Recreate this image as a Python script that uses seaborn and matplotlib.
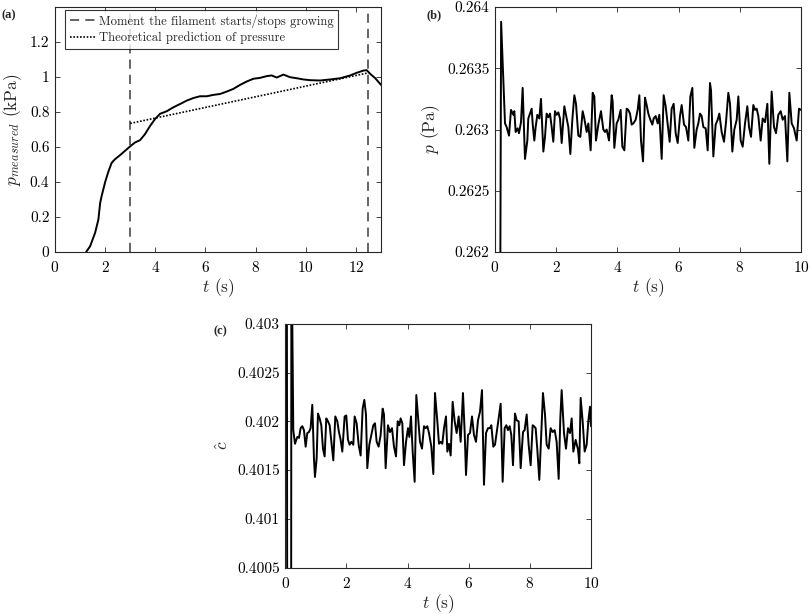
import numpy as np
import pandas as pd

import matplotlib
matplotlib.use("Agg")
import matplotlib.pyplot as plt
import seaborn as sns

# ---- panel (a): measured pressure ----
t_a = [1.24, 1.40, 1.60, 1.73, 1.80, 1.86, 2.00, 2.13, 2.26, 2.39, 2.59, 2.79,
       2.99, 3.19, 3.39, 3.59, 3.79, 3.99, 4.19, 4.45, 4.72, 4.99, 5.25, 5.52,
       5.78, 6.05, 6.32, 6.58, 6.85, 7.11, 7.38, 7.64, 7.91, 8.17, 8.44, 8.64,
       8.84, 9.11, 9.37, 9.64, 9.91, 10.17, 10.57, 10.97, 11.37, 11.77, 12.03,
       12.30, 12.43, 12.57, 12.77, 13.0]
p_a = [0.0, 0.033, 0.11, 0.186, 0.28, 0.32, 0.40, 0.46, 0.51, 0.53, 0.553, 0.578,
       0.603, 0.626, 0.639, 0.674, 0.72, 0.76, 0.79, 0.804, 0.827, 0.846, 0.865,
       0.88, 0.89, 0.89, 0.898, 0.903, 0.917, 0.932, 0.955, 0.974, 0.99, 0.995,
       1.005, 1.009, 0.997, 1.014, 0.999, 0.993, 0.986, 0.982, 0.98, 0.986,
       0.993, 1.009, 1.024, 1.037, 1.039, 1.018, 0.993, 0.955]
t_theory = [3.0, 12.5]
p_theory = [0.735, 1.024]
t_growth = [3.0, 12.5]

# ---- panel (b): p ----
t_b = [0.15, 0.20, 0.327, 0.381, 0.458, 0.523, 0.599, 0.632, 0.675, 0.741, 0.784,
       0.850, 0.904, 0.980, 1.057, 1.089, 1.144, 1.198, 1.231, 1.285, 1.329,
       1.383, 1.449, 1.503, 1.580, 1.634, 1.688, 1.743, 1.797, 1.852, 1.906,
       1.961, 2.015, 2.070, 2.124, 2.179, 2.266, 2.342, 2.397, 2.462, 2.527,
       2.593, 2.647, 2.723, 2.789, 2.865, 2.919, 2.996, 3.050, 3.126, 3.192,
       3.246, 3.301, 3.377, 3.464, 3.540, 3.595, 3.649, 3.726, 3.813, 3.845,
       3.900, 3.976, 4.031, 4.107, 4.161, 4.227, 4.303, 4.357, 4.412, 4.466,
       4.521, 4.597, 4.662, 4.717, 4.771, 4.837, 4.902, 4.956, 5.011, 5.076,
       5.142, 5.185, 5.251, 5.316, 5.370, 5.447, 5.512, 5.577, 5.643, 5.708,
       5.773, 5.839, 5.904, 5.970, 6.046, 6.100, 6.177, 6.242, 6.318, 6.384,
       6.449, 6.514, 6.590, 6.645, 6.699, 6.754, 6.808, 6.885, 6.950, 7.026,
       7.059, 7.135, 7.211, 7.277, 7.331, 7.407, 7.484, 7.549, 7.625, 7.680,
       7.756, 7.821, 7.898, 7.952, 8.028, 8.094, 8.170, 8.246, 8.301, 8.366,
       8.442, 8.497, 8.551, 8.606, 8.682, 8.747, 8.824, 8.900, 8.965, 9.041,
       9.118, 9.183, 9.259, 9.336, 9.401, 9.477, 9.553, 9.619, 9.695, 9.771,
       9.858, 9.935, 10.0]
p_b = [0.2600, 0.26388, 0.26305, 0.26302, 0.26295, 0.26316, 0.26312, 0.26315,
       0.26298, 0.26301, 0.26297, 0.26306, 0.26334, 0.26276, 0.26291, 0.26309,
       0.26313, 0.26317, 0.26305, 0.26291, 0.26302, 0.26312, 0.26309, 0.26325,
       0.26282, 0.26294, 0.26313, 0.26310, 0.26313, 0.26302, 0.26290, 0.26315,
       0.26312, 0.26314, 0.26309, 0.26289, 0.26319, 0.26309, 0.26302, 0.26280,
       0.26308, 0.26328, 0.26321, 0.26295, 0.26294, 0.26315, 0.26309, 0.26298,
       0.26305, 0.26283, 0.26330, 0.26327, 0.26291, 0.26304, 0.26315, 0.26300,
       0.26298, 0.26300, 0.26291, 0.26328, 0.26323, 0.26285, 0.26305, 0.26308,
       0.26316, 0.26286, 0.26283, 0.26317, 0.26316, 0.26313, 0.26304, 0.26305,
       0.26308, 0.26316, 0.26328, 0.26291, 0.26274, 0.26326, 0.26320, 0.26313,
       0.26308, 0.26304, 0.26309, 0.26311, 0.26305, 0.26312, 0.26276, 0.26328,
       0.26319, 0.26304, 0.26290, 0.26317, 0.26321, 0.26297, 0.26289, 0.26311,
       0.26320, 0.26304, 0.26302, 0.26291, 0.26327, 0.26334, 0.26285, 0.26300,
       0.26305, 0.26313, 0.26311, 0.26302, 0.26301, 0.26283, 0.26338, 0.26332,
       0.26278, 0.26304, 0.26308, 0.26313, 0.26298, 0.26290, 0.26306, 0.26330,
       0.26321, 0.26282, 0.26300, 0.26308, 0.26327, 0.26291, 0.26286, 0.26305,
       0.26319, 0.26302, 0.26294, 0.26320, 0.26316, 0.26317, 0.26311, 0.26291,
       0.26309, 0.26306, 0.26321, 0.26272, 0.26331, 0.26302, 0.26297, 0.26312,
       0.26315, 0.26308, 0.26311, 0.26274, 0.26330, 0.26305, 0.26301, 0.26291,
       0.26317, 0.26316]

# ---- panel (c): c hat ----
t_c = [0.05, 0.066, 0.19, 0.20, 0.262, 0.317, 0.393, 0.448, 0.502, 0.557, 0.611,
       0.666, 0.720, 0.775, 0.829, 0.884, 0.938, 0.971, 1.026, 1.069, 1.124,
       1.178, 1.233, 1.287, 1.342, 1.396, 1.451, 1.506, 1.571, 1.636, 1.702,
       1.756, 1.811, 1.865, 1.942, 1.996, 2.051, 2.105, 2.160, 2.225, 2.269,
       2.334, 2.400, 2.465, 2.531, 2.585, 2.640, 2.683, 2.749, 2.814, 2.880,
       2.934, 2.989, 3.054, 3.119, 3.185, 3.229, 3.283, 3.359, 3.425, 3.491,
       3.556, 3.622, 3.676, 3.731, 3.774, 3.829, 3.883, 3.949, 4.014, 4.058,
       4.112, 4.167, 4.232, 4.287, 4.352, 4.407, 4.472, 4.538, 4.592, 4.647,
       4.701, 4.778, 4.843, 4.897, 4.974, 5.028, 5.083, 5.137, 5.192, 5.257,
       5.301, 5.355, 5.410, 5.475, 5.541, 5.606, 5.672, 5.737, 5.813, 5.868,
       5.912, 5.977, 6.043, 6.108, 6.173, 6.239, 6.304, 6.370, 6.435, 6.500,
       6.566, 6.631, 6.696, 6.740, 6.805, 6.860, 6.914, 6.980, 7.045, 7.111,
       7.176, 7.231, 7.285, 7.340, 7.394, 7.449, 7.514, 7.569, 7.634, 7.700,
       7.776, 7.830, 7.896, 7.961, 8.027, 8.092, 8.136, 8.190, 8.245, 8.310,
       8.376, 8.430, 8.496, 8.550, 8.616, 8.681, 8.746, 8.812, 8.877, 8.943,
       8.997, 9.041, 9.117, 9.183, 9.248, 9.314, 9.368, 9.423, 9.499, 9.575,
       9.619, 9.662, 9.728, 9.793, 9.859, 9.913, 9.968, 10.0]
c_c = [0.4040, 0.3990, 0.3990, 0.4040, 0.40191, 0.40177, 0.40184, 0.40183,
       0.40193, 0.40195, 0.40191, 0.40174, 0.40188, 0.40189, 0.40193, 0.40217,
       0.40162, 0.40143, 0.40162, 0.40208, 0.40203, 0.40196, 0.40172, 0.40164,
       0.40203, 0.40200, 0.40196, 0.40179, 0.40160, 0.40205, 0.40200, 0.40189,
       0.40181, 0.40169, 0.40205, 0.40206, 0.40181, 0.40176, 0.40179, 0.40176,
       0.40205, 0.40198, 0.40176, 0.40165, 0.40213, 0.40222, 0.40207, 0.40152,
       0.40176, 0.40186, 0.40196, 0.40198, 0.40179, 0.40174, 0.40186, 0.40213,
       0.40207, 0.40152, 0.40196, 0.40189, 0.40193, 0.40174, 0.40164, 0.40200,
       0.40196, 0.40203, 0.40198, 0.40155, 0.40179, 0.40193, 0.40184, 0.40205,
       0.40169, 0.40138, 0.40227, 0.40201, 0.40179, 0.40172, 0.40195, 0.40193,
       0.40195, 0.40188, 0.40174, 0.40146, 0.40229, 0.40200, 0.40177, 0.40179,
       0.40177, 0.40193, 0.40205, 0.40169, 0.40177, 0.40165, 0.40220, 0.40200,
       0.40188, 0.40205, 0.40179, 0.40229, 0.40189, 0.40145, 0.40186, 0.40188,
       0.40205, 0.40186, 0.40179, 0.40201, 0.40210, 0.40232, 0.40135, 0.40188,
       0.40193, 0.40193, 0.40196, 0.40174, 0.40176, 0.40188, 0.40203, 0.40218,
       0.40138, 0.40193, 0.40196, 0.40191, 0.40195, 0.40186, 0.40155, 0.40208,
       0.40201, 0.40200, 0.40152, 0.40189, 0.40191, 0.40207, 0.40176, 0.40155,
       0.40196, 0.40195, 0.40193, 0.40171, 0.40140, 0.40189, 0.40229, 0.40207,
       0.40176, 0.40172, 0.40193, 0.40189, 0.40191, 0.40179, 0.40141, 0.40203,
       0.40232, 0.40188, 0.40172, 0.40193, 0.40188, 0.40203, 0.40169, 0.40181,
       0.40171, 0.40157, 0.40224, 0.40200, 0.40169, 0.40176, 0.40200, 0.40215,
       0.40195]

sns.set_theme(style="white")
plt.rcParams.update({
    "font.family": ["cmr10", "DejaVu Serif"],
    "mathtext.fontset": "cm",
    "axes.formatter.use_mathtext": True,
    "axes.edgecolor": "#262626",
    "axes.linewidth": 0.8,
    "xtick.direction": "in",
    "ytick.direction": "in",
    "xtick.color": "#262626",
    "ytick.color": "#262626",
    "xtick.labelcolor": "black",
    "ytick.labelcolor": "black",
    "xtick.major.size": 3.5,
    "ytick.major.size": 3.5,
    "xtick.major.width": 0.6,
    "ytick.major.width": 0.6,
    "xtick.labelsize": 11,
    "ytick.labelsize": 11,
    "axes.labelsize": 12.5,
})

fig = plt.figure(figsize=(8.1, 6.15), dpi=100)
ax_a = fig.add_axes([0.0679, 0.5902, 0.4025, 0.3984])
ax_b = fig.add_axes([0.6111, 0.5902, 0.3778, 0.3984])
ax_c = fig.add_axes([0.3522, 0.0769, 0.3774, 0.3967])


def matlab_box(ax):
    for s in ax.spines.values():
        s.set_visible(True)
    ax.tick_params(top=True, right=True, bottom=True, left=True)
    ax.tick_params(axis="x", pad=6)
    ax.tick_params(axis="y", pad=4)
    ax.xaxis.labelpad = 1
    ax.grid(False)


# (a)
df_a = pd.DataFrame({"t": t_a, "p": p_a})
sns.lineplot(data=df_a, x="t", y="p", ax=ax_a, color="black", lw=1.4,
             estimator=None, sort=False)
for i, tg in enumerate(t_growth):
    ax_a.axvline(tg, color="#3a3a3a", lw=1.1, ls=(0, (6, 4)),
                 label="Moment the filament starts/stops growing" if i == 0 else None)
df_th = pd.DataFrame({"t": t_theory, "p": p_theory})
sns.lineplot(data=df_th, x="t", y="p", ax=ax_a, color="black", lw=1.2,
             linestyle=(0, (1, 1)), label="Theoretical prediction of pressure",
             estimator=None, sort=False)
ax_a.set_xlim(0, 13)
ax_a.set_ylim(0, 1.4)
ax_a.set_xticks(range(0, 13, 2))
ax_a.set_yticks([0, 0.2, 0.4, 0.6, 0.8, 1.0, 1.2])
ax_a.set_yticklabels(["0", "0.2", "0.4", "0.6", "0.8", "1", "1.2"])
ax_a.set_xlabel(r"$t$ (s)")
ax_a.set_ylabel(r"$p_{measured}$ (kPa)")
leg = ax_a.legend(loc="upper left", bbox_to_anchor=(0.031, 0.988), borderaxespad=0,
                  fontsize=9.1, frameon=True, fancybox=False, handlelength=2.0,
                  handletextpad=0.3, borderpad=0.35, labelspacing=0.3)
leg.get_frame().set_edgecolor("black")
leg.get_frame().set_linewidth(0.8)
matlab_box(ax_a)

# (b)
df_b = pd.DataFrame({"t": t_b, "p": p_b})
sns.lineplot(data=df_b, x="t", y="p", ax=ax_b, color="black", lw=1.4,
             estimator=None, sort=False)
ax_b.set_xlim(0, 10)
ax_b.set_ylim(0.262, 0.264)
ax_b.set_xticks(range(0, 11, 2))
ax_b.set_yticks([0.262, 0.2625, 0.263, 0.2635, 0.264])
ax_b.set_yticklabels(["0.262", "0.2625", "0.263", "0.2635", "0.264"])
ax_b.set_xlabel(r"$t$ (s)")
ax_b.set_ylabel(r"$p$ (Pa)")
matlab_box(ax_b)

# (c)
df_c = pd.DataFrame({"t": t_c, "c": c_c})
sns.lineplot(data=df_c, x="t", y="c", ax=ax_c, color="black", lw=1.4,
             estimator=None, sort=False)
ax_c.set_xlim(0, 10)
ax_c.set_ylim(0.4005, 0.403)
ax_c.set_xticks(range(0, 11, 2))
ax_c.set_yticks([0.4005, 0.401, 0.4015, 0.402, 0.4025, 0.403])
ax_c.set_yticklabels(["0.4005", "0.401", "0.4015", "0.402", "0.4025", "0.403"])
ax_c.set_xlabel(r"$t$ (s)")
ax_c.set_ylabel(r"$\hat{c}$")
matlab_box(ax_c)

for x, y, s in [(0.002, 0.975, "(a)"), (0.526, 0.975, "(b)"), (0.263, 0.462, "(c)")]:
    fig.text(x, y, s, fontsize=9, fontweight="bold", family="Liberation Serif",
             ha="left", va="center")

fig.savefig("out.png", dpi=100)
plt.close(fig)
